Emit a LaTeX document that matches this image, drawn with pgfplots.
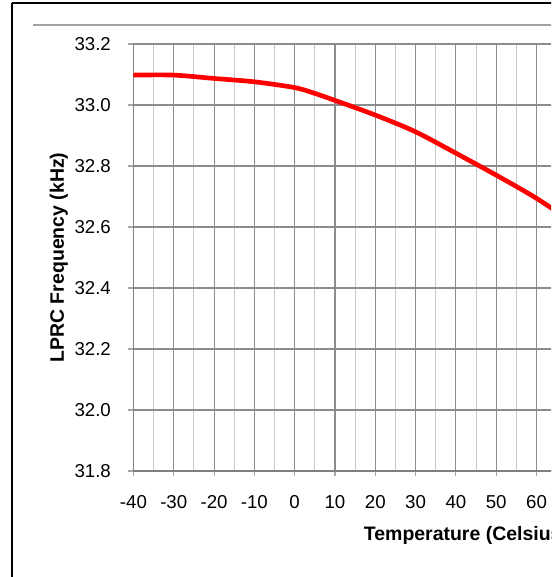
\documentclass[border=0pt]{standalone}
\usepackage{fontspec}
\setmainfont{Liberation Sans}
\usepackage{pgfplots}
\pgfplotsset{compat=1.18}

\definecolor{majgrid}{RGB}{140,140,140}
\definecolor{mingrid}{RGB}{200,200,200}
\definecolor{axgray}{RGB}{128,128,128}

\begin{document}
\begin{tikzpicture}
% reference is cropped on the right: keep the same window (1 px = 0.75pt)
\path[use as bounding box] (0,0) rectangle (413.25pt,432.75pt);
\clip (0,0) rectangle (413.25pt,432.75pt);

% outer frame and separator line
\draw[black, line width=1.6pt] (9pt,430.5pt) -- (9pt,-10pt);
\draw[black, line width=1.6pt] (9pt,430.5pt) -- (500pt,430.5pt);
\draw[majgrid!80, line width=0.8pt] (24.75pt,414pt) -- (500pt,414pt);

\begin{axis}[
    at={(100.1pt,79.5pt)}, anchor=south west,
    scale only axis,
    width=498.75pt, height=320.25pt,
    xmin=-40, xmax=125,
    ymin=31.8, ymax=33.2,
    xtick={-40,-30,-20,-10,0,10,20,30,40,50,60},
    minor xtick={-35,-25,-15,-5,5,15,25,35,45,55,65},
    ytick={31.8,32.0,32.2,32.4,32.6,32.8,33.0,33.2},
    grid=both,
    major grid style={draw=majgrid, line width=0.8pt},
    minor grid style={draw=mingrid, line width=0.8pt},
    minor tick length=0pt,
    major tick length=3.75pt,
    tick align=outside,
    tick style={draw=axgray!70, line width=0.8pt},
    axis lines*=left,
    axis line style={-, draw=axgray, line width=1.3pt},
    /pgf/number format/assume math mode=true,
    ticklabel style={font=\fontsize{14}{16}\selectfont},
    yticklabel style={anchor=east, inner sep=0pt, xshift=-13pt,
        /pgf/number format/.cd, fixed, fixed zerofill, precision=1},
    xticklabel style={anchor=base, inner sep=0pt, yshift=-24pt},
    xlabel={Temperature (Celsius)},
    ylabel={LPRC Frequency (kHz)},
    every axis x label/.style={at={(rel axis cs:0.5,-0.1639)}, anchor=base,
        font=\bfseries\fontsize{14.6}{17}\selectfont},
    every axis y label/.style={at={(rel axis cs:-0.1123,0.5)}, anchor=center, rotate=90,
        font=\bfseries\fontsize{14.6}{17}\selectfont},
]
\addplot[red, line width=3.5pt, smooth, no markers] coordinates {
    (-40,33.098) (-30,33.098) (-20,33.087) (-10,33.076) (0,33.057)
    (5,33.038) (10,33.015) (20,32.967) (30,32.912) (40,32.842)
    (50,32.770) (60,32.694) (70,32.605) (80,32.51) (90,32.41)
    (100,32.30) (110,32.19) (125,32.02)
};
\end{axis}
\end{tikzpicture}
\end{document}
